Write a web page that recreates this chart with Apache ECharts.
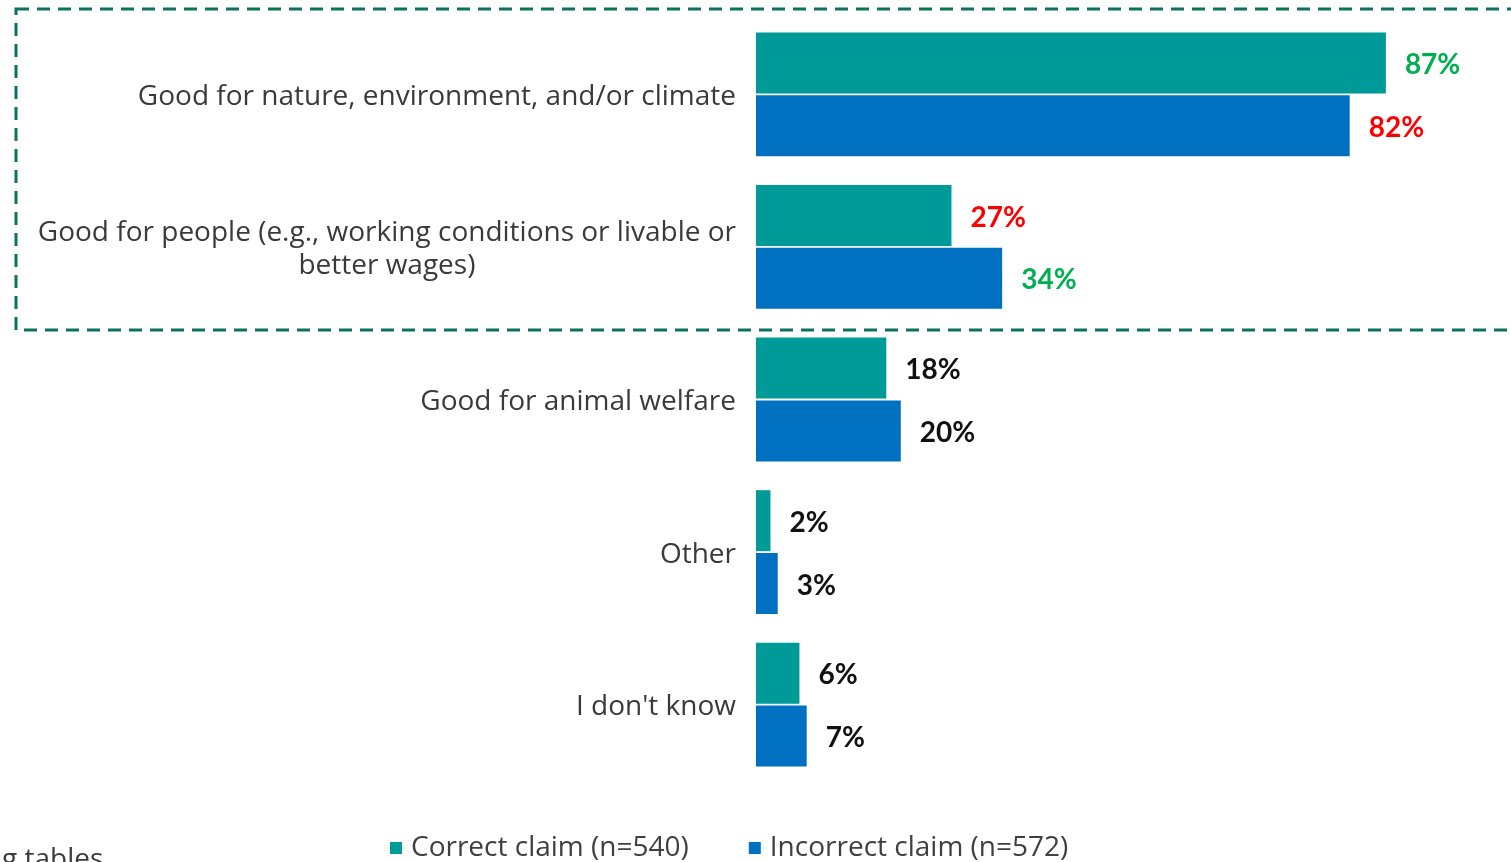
<!DOCTYPE html>
<html>
<head>
<meta charset="utf-8">
<style>
  html, body { margin: 0; padding: 0; background: #ffffff; }
  #chart { width: 1511px; height: 862px; }
</style>
<script src="https://cdn.jsdelivr.net/npm/echarts@6/dist/echarts.min.js"></script>
</head>
<body>
<div id="chart"></div>
<script>
// Survey answers: why a product was described as sustainable
const categories = [
  'Good for nature, environment, and/or climate',
  'Good for people (e.g., working conditions or livable or\nbetter wages)',
  'Good for animal welfare',
  'Other',
  "I don't know"
];
const seriesNames = ['Correct claim (n=540)', 'Incorrect claim (n=572)'];
const correctValues = [87, 27, 18, 2, 6];
const incorrectValues = [82, 34, 20, 3, 7];
// label colour per bar: green = expected answer, red = unexpected, black = neutral
const correctLabelTone = ['good', 'bad', 'plain', 'plain', 'plain'];
const incorrectLabelTone = ['bad', 'good', 'plain', 'plain', 'plain'];

const TEXT_FONT = '"Open Sans", sans-serif';
const VALUE_FONT = 'Lato, "Open Sans", sans-serif';
const toneColor = { good: '#00B050', bad: '#FF0000', plain: '#111111' };

function buildData(values, tones) {
  return values.map((v, i) => ({
    value: v,
    label: { color: toneColor[tones[i]] }
  }));
}

const chart = echarts.init(document.getElementById('chart'), null, { renderer: 'canvas' });

const valueLabel = {
  show: true,
  position: 'right',
  distance: 19,
  offset: [0, 2],
  formatter: '{c}%',
  fontFamily: VALUE_FONT,
  fontSize: 28,
  fontWeight: 'bold'
};

chart.setOption({
  animation: false,
  backgroundColor: '#ffffff',
  textStyle: { fontFamily: TEXT_FONT },
  grid: { left: 756, right: 31, top: 18, bottom: 81, containLabel: false },
  legend: {
    top: 829,
    left: 385,
    itemWidth: 12,
    itemHeight: 12,
    itemGap: 60,
    icon: 'rect',
    textStyle: { fontFamily: TEXT_FONT, fontSize: 28, color: '#404040', padding: [0, 0, 0, 4] },
    data: seriesNames
  },
  xAxis: {
    type: 'value',
    min: 0,
    max: 100,
    show: false
  },
  yAxis: {
    type: 'category',
    inverse: true,
    data: categories,
    axisLine: { show: false },
    axisTick: { show: false },
    axisLabel: {
      margin: 20,
      fontFamily: TEXT_FONT,
      fontSize: 28,
      color: '#3a3a3a',
      lineHeight: 33,
      padding: [5, 0, 0, 0],
      formatter: function (v) {
        return v.split('\n').map(s => '{c|' + s + '}').join('\n');
      },
      rich: { c: { align: 'center', fontFamily: TEXT_FONT, fontSize: 28, color: '#3a3a3a', lineHeight: 33 } }
    }
  },
  series: [
    {
      name: seriesNames[0],
      type: 'bar',
      barWidth: 61,
      barGap: '3%',
      itemStyle: { color: '#009B98' },
      label: valueLabel,
      data: buildData(correctValues, correctLabelTone)
    },
    {
      name: seriesNames[1],
      type: 'bar',
      barWidth: 61,
      barGap: '3%',
      itemStyle: { color: '#0070C0' },
      label: valueLabel,
      data: buildData(incorrectValues, incorrectLabelTone)
    }
  ],
  graphic: [
    {
      // dashed frame around the first two answers
      type: 'rect',
      silent: true,
      shape: { x: 16, y: 9, width: 1530, height: 321 },
      style: { fill: 'none', stroke: '#0E7060', lineWidth: 3, lineDash: [13, 8] }
    },
    {
      type: 'text',
      left: 2,
      top: 846,
      style: { text: 'g tables', fontFamily: TEXT_FONT, fontSize: 28, fill: '#3a3a3a' }
    }
  ]
});
</script>
</body>
</html>
